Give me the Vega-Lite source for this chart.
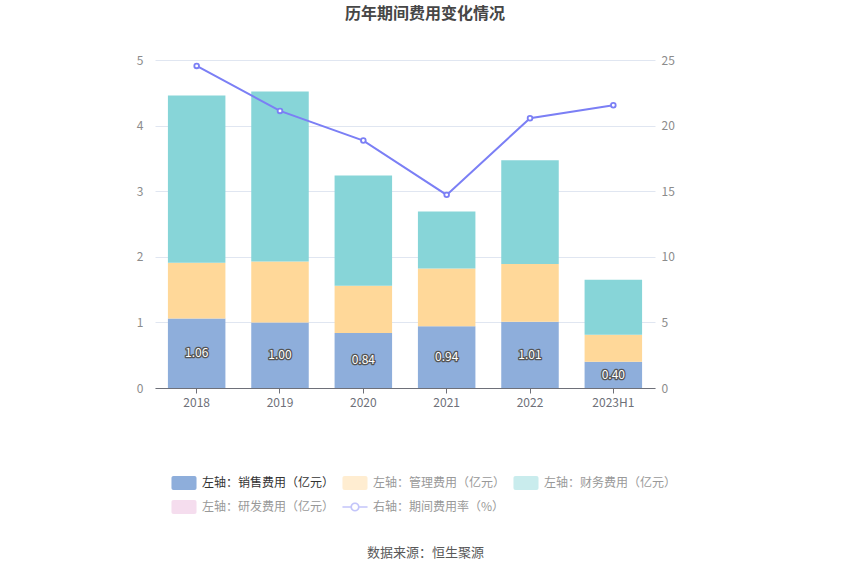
{
  "$schema": "https://vega.github.io/schema/vega-lite/v6.json",
  "autosize": {"type": "none"},
  "width": 500,
  "height": 328,
  "padding": {"left": 155, "top": 60, "right": 195, "bottom": 187},
  "background": "#ffffff",
  "title": {
    "text": "历年期间费用变化情况",
    "fontSize": 16,
    "fontWeight": "bold",
    "color": "#464646",
    "font": "Noto Sans CJK SC",
    "anchor": "middle",
    "dx": 20,
    "offset": 32
  },
  "config": {
    "font": "Noto Sans CJK SC",
    "view": {"stroke": null},
    "axis": {"labelFont": "Noto Sans CJK SC", "labelFontSize": 12, "labelColor": "#6e7079"}
  },
  "datasets": {
    "fees": [
      {"year": "2018", "series": "销售费用", "value": 1.06},
      {"year": "2018", "series": "管理费用", "value": 0.85},
      {"year": "2018", "series": "财务费用", "value": 2.55},
      {"year": "2018", "series": "研发费用", "value": 0},
      {"year": "2019", "series": "销售费用", "value": 1.00},
      {"year": "2019", "series": "管理费用", "value": 0.93},
      {"year": "2019", "series": "财务费用", "value": 2.59},
      {"year": "2019", "series": "研发费用", "value": 0},
      {"year": "2020", "series": "销售费用", "value": 0.84},
      {"year": "2020", "series": "管理费用", "value": 0.72},
      {"year": "2020", "series": "财务费用", "value": 1.68},
      {"year": "2020", "series": "研发费用", "value": 0},
      {"year": "2021", "series": "销售费用", "value": 0.94},
      {"year": "2021", "series": "管理费用", "value": 0.88},
      {"year": "2021", "series": "财务费用", "value": 0.87},
      {"year": "2021", "series": "研发费用", "value": 0},
      {"year": "2022", "series": "销售费用", "value": 1.01},
      {"year": "2022", "series": "管理费用", "value": 0.88},
      {"year": "2022", "series": "财务费用", "value": 1.58},
      {"year": "2022", "series": "研发费用", "value": 0},
      {"year": "2023H1", "series": "销售费用", "value": 0.40},
      {"year": "2023H1", "series": "管理费用", "value": 0.41},
      {"year": "2023H1", "series": "财务费用", "value": 0.84},
      {"year": "2023H1", "series": "研发费用", "value": 0}
    ],
    "rate": [
      {"year": "2018", "rate": 24.55},
      {"year": "2019", "rate": 21.12},
      {"year": "2020", "rate": 18.86},
      {"year": "2021", "rate": 14.72},
      {"year": "2022", "rate": 20.56},
      {"year": "2023H1", "rate": 21.55}
    ]
  },
  "encoding": {
    "x": {
      "field": "year",
      "type": "nominal",
      "sort": null,
      "scale": {"paddingInner": 0.31, "paddingOuter": 0.155},
      "axis": {
        "labelAngle": 0,
        "labelPadding": 4,
        "domainColor": "#6e7079",
        "tickColor": "#6e7079",
        "tickSize": 5,
        "title": "数据来源：恒生聚源",
        "titleFont": "Noto Sans CJK SC",
        "titleFontSize": 13,
        "titleFontWeight": "normal",
        "titleColor": "#595959",
        "titlePadding": 138,
        "titleX": 270
      }
    }
  },
  "layer": [
    {
      "data": {"name": "fees"},
      "layer": [
        {
          "transform": [
            {"calculate": "indexof(['销售费用','管理费用','财务费用','研发费用'], datum.series)", "as": "k"}
          ],
          "mark": {"type": "bar"},
          "encoding": {
            "y": {
              "field": "value",
              "type": "quantitative",
              "stack": "zero",
              "scale": {"domain": [0, 5]},
              "axis": {
                "title": null,
                "values": [0, 1, 2, 3, 4, 5],
                "domain": false,
                "ticks": false,
                "labelPadding": 12,
                "gridColor": "#e0e6f1",
                "labelColor": "#8c8c8c"
              }
            },
            "order": {"field": "k", "type": "quantitative"},
            "color": {
              "field": "series",
              "type": "nominal",
              "scale": {
                "domain": ["销售费用", "管理费用", "财务费用", "研发费用", "期间费用率"],
                "range": ["#8eaedb", "#ffd899", "#87d5d8", "#e8b4da", "#7b7ff5"]
              },
              "legend": {
                "title": null,
                "orient": "none",
                "legendX": 22,
                "legendY": 416,
                "direction": "horizontal",
                "columns": 3,
                "symbolSize": 196,
                "labelOffset": 11,
                "columnPadding": 7,
                "rowPadding": 9,
                "labelFont": "Noto Sans CJK SC",
                "labelFontSize": 12,
                "symbolStrokeWidth": 0,
                "symbolType": {"expr": "datum.value == '期间费用率' ? 'M-1.79,-0.1H-0.62V0.1H-1.79Z M0.62,-0.1H1.79V0.1H0.62Z M0.66,0A0.66,0.66 0 1 1 -0.66,0A0.66,0.66 0 1 1 0.66,0Z M0.42,0A0.42,0.42 0 1 0 -0.42,0A0.42,0.42 0 1 0 0.42,0Z' : 'M-1.5,-1H1.5A0.29,0.29 0 0 1 1.79,-0.71V0.71A0.29,0.29 0 0 1 1.5,1H-1.5A0.29,0.29 0 0 1 -1.79,0.71V-0.71A0.29,0.29 0 0 1 -1.5,-1Z'"},
                "symbolOpacity": {"expr": "datum.value == '销售费用' ? 1 : 0.45"},
                "labelColor": {"expr": "datum.value == '销售费用' ? '#333333' : '#999999'"},
                "labelExpr": "datum.label == '期间费用率' ? '右轴：期间费用率（%）' : '左轴：' + datum.label + '（亿元）'"
              }
            }
          }
        },
        {
          "transform": [{"filter": "datum.series == '销售费用'"}, {"calculate": "datum.value / 2", "as": "mid"}],
          "mark": {"type": "text", "fontSize": 12, "stroke": "#555555", "strokeWidth": 2.5, "strokeJoin": "round", "fill": "#555555"},
          "encoding": {
            "y": {
              "field": "mid",
              "type": "quantitative",
              "axis": {
                "title": null,
                "values": [0, 1, 2, 3, 4, 5],
                "domain": false,
                "ticks": false,
                "labelPadding": 12,
                "gridColor": "#e0e6f1",
                "labelColor": "#8c8c8c"
              }
            },
            "text": {"field": "value", "type": "quantitative", "format": ".2f"}
          }
        },
        {
          "transform": [{"filter": "datum.series == '销售费用'"}, {"calculate": "datum.value / 2", "as": "mid"}],
          "mark": {"type": "text", "fontSize": 12, "fill": "#ffffff"},
          "encoding": {
            "y": {
              "field": "mid",
              "type": "quantitative",
              "axis": {
                "title": null,
                "values": [0, 1, 2, 3, 4, 5],
                "domain": false,
                "ticks": false,
                "labelPadding": 12,
                "gridColor": "#e0e6f1",
                "labelColor": "#8c8c8c"
              }
            },
            "text": {"field": "value", "type": "quantitative", "format": ".2f"}
          }
        }
      ]
    },
    {
      "data": {"name": "rate"},
      "layer": [
        {
          "mark": {"type": "line", "strokeWidth": 2, "color": "#7b7ff5"}
        },
        {
          "mark": {"type": "point", "filled": true, "fill": "#ffffff", "size": 22, "stroke": "#7b7ff5", "strokeWidth": 1.8, "opacity": 1}
        }
      ],
      "encoding": {
        "y": {
          "field": "rate",
          "type": "quantitative",
          "scale": {"domain": [0, 25]},
          "axis": {
            "title": null,
            "orient": "right",
            "values": [0, 5, 10, 15, 20, 25],
            "domain": false,
            "ticks": false,
            "grid": false,
            "labelPadding": 6,
            "labelColor": "#8c8c8c"
          }
        }
      }
    }
  ],
  "resolve": {"scale": {"y": "independent"}}
}
